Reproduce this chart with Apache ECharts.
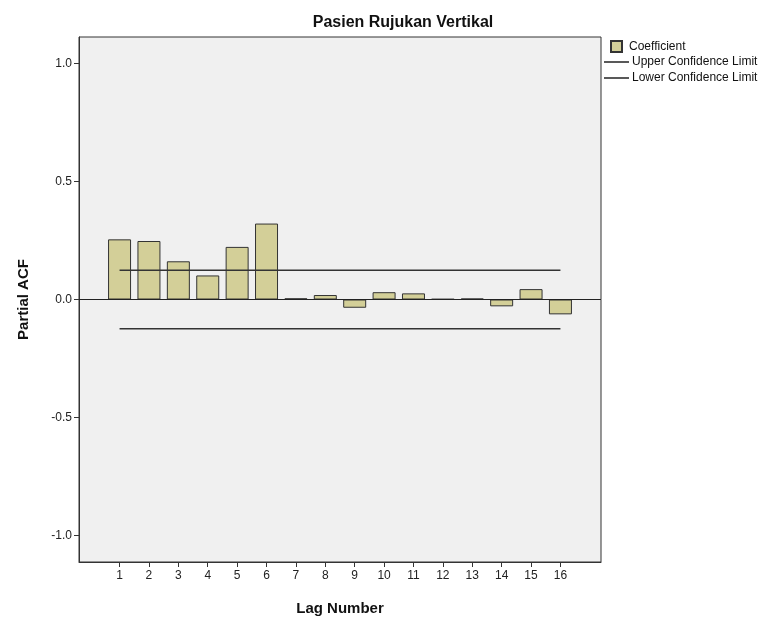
<!DOCTYPE html>
<html>
<head>
<meta charset="utf-8">
<script src="https://cdn.jsdelivr.net/npm/echarts@6/dist/echarts.min.js"></script>
<style>
  html, body { margin: 0; padding: 0; background: #fff; }
  #main { width: 782px; height: 623px; }
</style>
</head>
<body>
<div id="main"></div>
<script>
// data
var lags = [1, 2, 3, 4, 5, 6, 7, 8, 9, 10, 11, 12, 13, 14, 15, 16];
var coefficient = [0.255, 0.248, 0.162, 0.102, 0.223, 0.322, 0.005, 0.019, -0.035, 0.031, 0.026, 0.002, 0.004, -0.029, 0.044, -0.063];
var upperLimit = [0.124, 0.124];
var lowerLimit = [-0.124, -0.124];
var yTicks = [-1.0, -0.5, 0.0, 0.5, 1.0];

var chart = echarts.init(document.getElementById("main"));
var font = "Liberation Sans, Arial, sans-serif";

var barData = lags.map(function(l, i) { return [l, coefficient[i]]; });
var upperData = [[lags[0], upperLimit[0]], [lags[lags.length - 1], upperLimit[1]]];
var lowerData = [[lags[0], lowerLimit[0]], [lags[lags.length - 1], lowerLimit[1]]];

var option = {
  backgroundColor: "#fff",
  animation: false,
  title: {
    text: "Pasien Rujukan Vertikal",
    left: 398,
    textAlign: "center",
    top: 10,
    textStyle: { fontFamily: font, fontSize: 16, fontWeight: "bold", color: "#111" }
  },
  legend: [
    {
      orient: "vertical",
      left: 610,
      top: 40,
      itemWidth: 11,
      itemHeight: 11,
      data: [{ name: "Coefficient", icon: "rect" }],
      textStyle: { fontFamily: font, fontSize: 12, color: "#111", padding: [0, 0, 0, 2] },
      padding: 0
    },
    {
      orient: "vertical",
      left: 604,
      top: 56,
      itemWidth: 25,
      itemHeight: 1.5,
      itemGap: 4,
      data: [
        { name: "Upper Confidence Limit", icon: "rect", itemStyle: { color: "#222" } },
        { name: "Lower Confidence Limit", icon: "rect", itemStyle: { color: "#222" } }
      ],
      textStyle: { fontFamily: font, fontSize: 12, color: "#111", padding: [0, 0, 0, -2] },
      padding: 0
    }
  ],
  grid: {
    left: 79,
    right: 181,
    top: 37,
    bottom: 61,
    show: true,
    backgroundColor: "#f0f0f0",
    borderColor: "#333",
    borderWidth: 1
  },
  xAxis: {
    type: "value",
    min: -0.38,
    max: 17.38,
    name: "Lag Number",
    nameLocation: "middle",
    nameGap: 39,
    nameTextStyle: { fontFamily: font, fontSize: 15, fontWeight: "bold", color: "#111" },
    axisLine: { show: true, onZero: false, lineStyle: { color: "#333" } },
    splitLine: { show: false },
    axisTick: { show: true, length: 5, customValues: lags, lineStyle: { color: "#333" } },
    axisLabel: { customValues: lags, margin: 8, fontFamily: font, fontSize: 12, color: "#222" }
  },
  yAxis: {
    type: "value",
    min: -1.113,
    max: 1.113,
    name: "Partial ACF",
    nameLocation: "middle",
    nameGap: 48,
    nameTextStyle: { fontFamily: font, fontSize: 15, fontWeight: "bold", color: "#111" },
    axisLine: { show: true, onZero: false, lineStyle: { color: "#333" } },
    splitLine: { show: false },
    axisTick: { show: true, length: 5, customValues: yTicks, lineStyle: { color: "#333" } },
    axisLabel: {
      customValues: yTicks,
      margin: 7,
      fontFamily: font,
      fontSize: 12,
      color: "#222",
      formatter: function(v) { return v.toFixed(1); }
    }
  },
  series: [
    {
      name: "Coefficient",
      type: "bar",
      data: barData,
      barWidth: 23,
      itemStyle: { color: "#d3cf98", borderColor: "#333", borderWidth: 1 },
      markLine: {
        silent: true,
        symbol: "none",
        label: { show: false },
        lineStyle: { color: "#222", width: 1, type: "solid" },
        data: [{ yAxis: 0 }]
      },
      z: 2
    },
    {
      name: "Upper Confidence Limit",
      type: "line",
      data: upperData,
      showSymbol: false,
      symbol: "none",
      lineStyle: { color: "#333", width: 1.5 },
      itemStyle: { color: "#222" },
      z: 3
    },
    {
      name: "Lower Confidence Limit",
      type: "line",
      data: lowerData,
      showSymbol: false,
      symbol: "none",
      lineStyle: { color: "#333", width: 1.5 },
      itemStyle: { color: "#222" },
      z: 3
    }
  ]
};

chart.setOption(option);
</script>
</body>
</html>
